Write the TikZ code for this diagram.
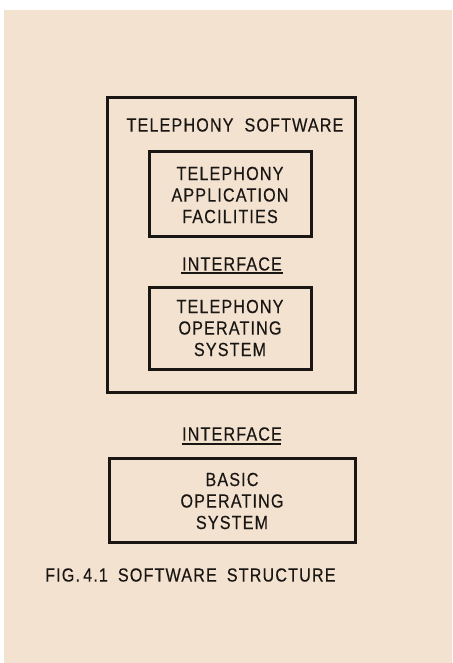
\documentclass[tikz,border=0pt]{standalone}
\usepackage{fontspec}
\setmainfont{Liberation Sans}[FakeStretch=0.85,LetterSpace=6,FakeBold=0.3]
\definecolor{paper}{RGB}{243,226,208}
\definecolor{ink}{RGB}{25,22,20}
\begin{document}
\begin{tikzpicture}[x=1pt,y=-1pt,
  box/.style={draw=ink,line width=3pt},
  uline/.style={draw=ink,line width=2pt},
  lbl/.style={text=ink,font=\fontsize{19}{21.5}\selectfont,align=center,inner sep=0pt}]
\useasboundingbox (0,0) rectangle (452,663);
\fill[white] (0,0) rectangle (452,663);
\fill[paper] (4,10) rectangle (452,663);
% outer box
\draw[box] (107,98) rectangle (355,392);
\node[lbl] (tsw) at (235,125) {TELEPHONY\hspace{11pt}SOFTWARE};
% inner boxes
\draw[box] (149,152) rectangle (311,236);
\node[lbl] (taf) at (230,195) {TELEPHONY\\APPLICATION\\FACILITIES};
\node[lbl] (if1) at (232,264) {INTERFACE};
\draw[uline] (181,273) -- (283,273);
\draw[box] (149,287) rectangle (311,369);
\node[lbl] (tos) at (230,328) {TELEPHONY\\OPERATING\\SYSTEM};
% lower
\node[lbl] (if2) at (232,434) {INTERFACE};
\draw[uline] (182,444) -- (281,444);
\draw[box] (109,458) rectangle (355,542);
\node[lbl] (bos) at (232,501) {BASIC\\OPERATING\\SYSTEM};
\node[lbl,anchor=west] (cap) at (45,575) {FIG.\,4.1\hspace{10pt}SOFTWARE\hspace{10pt}STRUCTURE};
\end{tikzpicture}
\end{document}
